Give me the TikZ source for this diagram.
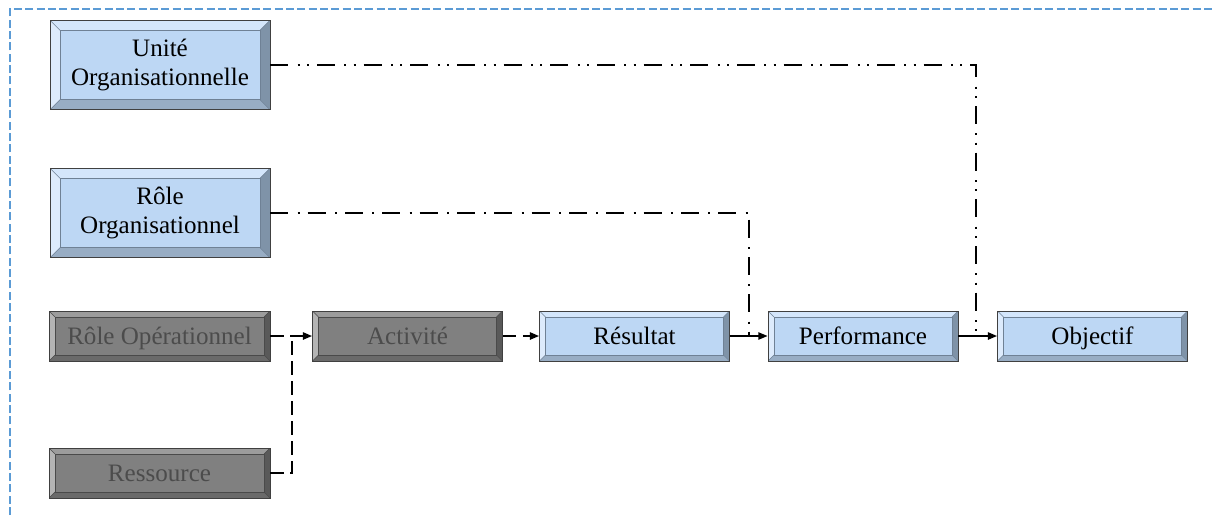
\documentclass[tikz,border=0pt]{standalone}
\usepackage{fontspec}
\setmainfont{Liberation Serif}
\newfontfamily\tnr{Liberation Serif}
\usetikzlibrary{arrows.meta}
\definecolor{bface}{HTML}{BDD7F4}
\definecolor{btop}{HTML}{D4E6FB}
\definecolor{bleft}{HTML}{DDEBFC}
\definecolor{bright}{HTML}{7F93A8}
\definecolor{bbot}{HTML}{98ADC4}
\definecolor{bline}{HTML}{6F8195}
\definecolor{gface}{HTML}{808080}
\definecolor{gtop}{HTML}{9C9C9C}
\definecolor{gleft}{HTML}{B4B4B4}
\definecolor{gright}{HTML}{595959}
\definecolor{gbot}{HTML}{6A6A6A}
\definecolor{gline}{HTML}{4A4A4A}
\definecolor{frameblue}{HTML}{5B9BD5}
\begin{document}
\begin{tikzpicture}[x=0.75pt,y=-0.75pt,
  bw/.store in=\bw, bw=7.5pt,
  ctop/.store in=\ctop, cleft/.store in=\cleft, cright/.store in=\cright,
  cbot/.store in=\cbot, cline/.store in=\cline,
  bevel/.style={draw=black!75, line width=0.6pt, inner sep=0pt, align=center,
    font=\tnr\fontsize{18.8}{21.8}\selectfont,
    path picture={
      \fill[fill=\ctop] (path picture bounding box.north west) -- (path picture bounding box.north east) -- ([shift={(-\bw,-\bw)}]path picture bounding box.north east) -- ([shift={(\bw,-\bw)}]path picture bounding box.north west) -- cycle;
      \fill[fill=\cleft] (path picture bounding box.north west) -- ([shift={(\bw,-\bw)}]path picture bounding box.north west) -- ([shift={(\bw,\bw)}]path picture bounding box.south west) -- (path picture bounding box.south west) -- cycle;
      \fill[fill=\cright] (path picture bounding box.north east) -- ([shift={(-\bw,-\bw)}]path picture bounding box.north east) -- ([shift={(-\bw,\bw)}]path picture bounding box.south east) -- (path picture bounding box.south east) -- cycle;
      \fill[fill=\cbot] (path picture bounding box.south west) -- ([shift={(\bw,\bw)}]path picture bounding box.south west) -- ([shift={(-\bw,\bw)}]path picture bounding box.south east) -- (path picture bounding box.south east) -- cycle;
      \draw[draw=\cline, line width=0.4pt] ([shift={(\bw,-\bw)}]path picture bounding box.north west) rectangle ([shift={(-\bw,\bw)}]path picture bounding box.south east);
      \draw[draw=\cline, line width=0.4pt] (path picture bounding box.north west) -- ([shift={(\bw,-\bw)}]path picture bounding box.north west);
      \draw[draw=\cline, line width=0.4pt] (path picture bounding box.north east) -- ([shift={(-\bw,-\bw)}]path picture bounding box.north east);
      \draw[draw=\cline, line width=0.4pt] (path picture bounding box.south west) -- ([shift={(\bw,\bw)}]path picture bounding box.south west);
      \draw[draw=\cline, line width=0.4pt] (path picture bounding box.south east) -- ([shift={(-\bw,\bw)}]path picture bounding box.south east);
    }},
  bluebox/.style={bevel, fill=bface, ctop=btop, cleft=bleft, cright=bright, cbot=bbot, cline=bline, text=black},
  graybox/.style={bevel, fill=gface, ctop=gtop, cleft=gleft, cright=gright, cbot=gbot, cline=gline, text=black!70},
  tall/.style={bw=7.5pt, minimum width=165pt, minimum height=67pt},
  short/.style={bw=4.5pt, minimum width=142.5pt, minimum height=37.5pt, text height=14pt, text depth=1.6pt},
  shortw/.style={short, minimum width=165.75pt},
  conn/.style={line width=1.4pt, black},
  tip/.style={-{Triangle[length=7pt,width=5.5pt]}},
  dashedline/.style={conn, dash pattern=on 10pt off 5pt},
  dashdot/.style={conn, line width=1.2pt, dash pattern=on 13.5pt off 7pt on 1.5pt off 6pt},
  dashdotdot/.style={conn, line width=1.2pt, dash pattern=on 13.5pt off 7pt on 1.5pt off 5.5pt on 1.5pt off 6pt}
]
\useasboundingbox (0,0) rectangle (1214,515);
\draw[frameblue, line width=1.6pt, dash pattern=on 6pt off 2.5pt] (10,515) -- (10,9) -- (1214,9);

\node[bluebox, tall] (U) at (160,65) {Unité\\Organisationnelle};
\node[bluebox, tall] (RO) at (160,213) {Rôle\\Organisationnel};
\node[graybox, shortw] (ROp) at (159.5,336) {Rôle Opérationnel};
\node[graybox, shortw] (Res) at (159.5,473) {Ressource};
\node[graybox, short] (Act) at (407.5,336) {Activité};
\node[bluebox, short] (Resu) at (634.5,336) {Résultat};
\node[bluebox, short] (Perf) at (863,336) {Performance};
\node[bluebox, short] (Obj) at (1092.5,336) {Objectif};

\coordinate (j1) at (292,336);
\coordinate (j2) at (749,336);
\coordinate (j3) at (976,336);

\draw[dashedline, tip] (ROp.east) -- (Act.west);
\draw[dashedline] (Res.east) -| (j1);
\draw[dashedline, tip] (Act.east) -- (Resu.west);
\draw[conn] (Resu.east) -- (j2);
\draw[dashdot, tip] (RO.east) -| (j2) -- (Perf.west);
\draw[conn, tip] (Perf.east) -- (Obj.west);
\draw[dashdotdot] (U.east) -| (j3);
\end{tikzpicture}
\end{document}
